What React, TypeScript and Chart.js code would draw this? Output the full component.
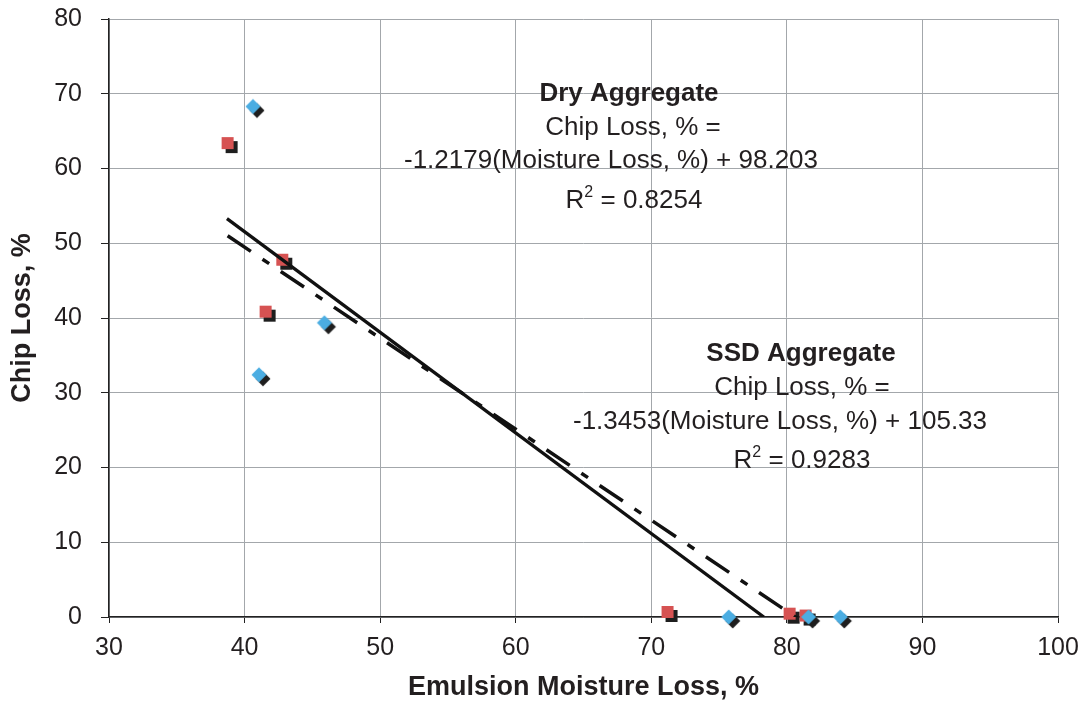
import React, { useEffect, useRef } from 'react';
import { Chart, registerables } from 'chart.js';

Chart.register(...registerables);

// ---- data ----
const dryX = [38.75, 42.78, 41.55, 71.2, 80.2, 81.38];
const dryY = [63.4, 47.8, 40.85, 0.67, 0.45, 0.2];
const ssdX = [40.62, 45.89, 41.06, 75.71, 83.94, 81.6];
const ssdY = [68.3, 39.36, 32.4, 0, 0, 0];
const dryTrendX = [38.75, 81.38];
const dryTrendY = [51.0, -0.9];
const ssdTrendX = [38.7, 78.3];
const ssdTrendY = [53.3, 0];

const xMin = 30;
const xMax = 100;
const yMin = 0;
const yMax = 80;
const tickStep = 10;

const xTitle = 'Emulsion Moisture Loss, %';
const yTitle = 'Chip Loss, %';

const dryLines = ['Dry Aggregate', 'Chip Loss, % =', '-1.2179(Moisture Loss, %) + 98.203', ' = 0.8254'];
const ssdLines = ['SSD Aggregate', 'Chip Loss, % =', '-1.3453(Moisture Loss, %) + 105.33', ' = 0.9283'];

const FONT = '"Liberation Sans", Arial, Helvetica, sans-serif';
const RED = '#d65252';
const BLUE = '#4bade2';
const SHADOW = '#1e1e1e';

function makeMarker(kind: 'square' | 'diamond', color: string): HTMLCanvasElement {
  const size = 30;
  const c = document.createElement('canvas');
  c.width = size;
  c.height = size;
  const ctx = c.getContext('2d')!;
  const cx = size / 2;
  const cy = size / 2;
  const off = 4;
  const draw = (x: number, y: number, fill: string) => {
    ctx.fillStyle = fill;
    if (kind === 'square') {
      ctx.fillRect(x - 6, y - 6, 12, 12);
    } else {
      const r = 7.5;
      ctx.beginPath();
      ctx.moveTo(x, y - r);
      ctx.lineTo(x + r, y);
      ctx.lineTo(x, y + r);
      ctx.lineTo(x - r, y);
      ctx.closePath();
      ctx.fill();
    }
  };
  draw(cx + off, cy + off, SHADOW);
  draw(cx, cy, color);
  return c;
}

const zip = (xs: number[], ys: number[]) => xs.map((x, i) => ({ x, y: ys[i] }));

function drawBlock(ctx: CanvasRenderingContext2D, lines: string[], cxs: number[], ys: number[]) {
  ctx.save();
  ctx.fillStyle = '#231f20';
  ctx.textBaseline = 'alphabetic';
  ctx.textAlign = 'center';
  ctx.font = `bold 26px ${FONT}`;
  ctx.fillText(lines[0], cxs[0], ys[0]);
  ctx.font = `26px ${FONT}`;
  ctx.fillText(lines[1], cxs[1], ys[1]);
  ctx.fillText(lines[2], cxs[2], ys[2]);
  // R^2 line
  ctx.textAlign = 'left';
  ctx.font = `26px ${FONT}`;
  const wR = ctx.measureText('R').width;
  const wRest = ctx.measureText(lines[3]).width;
  ctx.font = `16px ${FONT}`;
  const w2 = ctx.measureText('2').width;
  const total = wR + w2 + wRest;
  let x = cxs[3] - total / 2;
  ctx.font = `26px ${FONT}`;
  ctx.fillText('R', x, ys[3]);
  x += wR;
  ctx.font = `16px ${FONT}`;
  ctx.fillText('2', x, ys[3] - 11);
  x += w2;
  ctx.font = `26px ${FONT}`;
  ctx.fillText(lines[3], x, ys[3]);
  ctx.restore();
}

const annotationPlugin = {
  id: 'annotations',
  afterDatasetsDraw(chart: any) {
    const ctx = chart.ctx as CanvasRenderingContext2D;
    drawBlock(ctx, dryLines, [629, 633, 611, 634], [101, 135, 168, 208]);
    drawBlock(ctx, ssdLines, [801, 802, 780, 802], [361, 395, 429, 468]);
  },
};

export default function App() {
  const canvasRef = useRef<HTMLCanvasElement>(null);

  useEffect(() => {
    document.body.style.margin = '0';
    const canvas = canvasRef.current!;
    const chart = new Chart(canvas, {
      type: 'scatter',
      data: {
        datasets: [
          {
            label: 'SSD trend',
            data: zip(ssdTrendX, ssdTrendY),
            showLine: true,
            borderColor: '#111',
            borderWidth: 3.3,
            pointRadius: 0,
            borderCapStyle: 'butt',
            clip: 0,
          } as any,
          {
            label: 'Dry trend',
            data: zip(dryTrendX, dryTrendY),
            showLine: true,
            borderColor: '#111',
            borderWidth: 3.5,
            borderDash: [28, 14, 8, 14],
            borderCapStyle: 'butt',
            pointRadius: 0,
            clip: 0,
          } as any,
          {
            label: 'SSD Aggregate',
            data: zip(ssdX, ssdY),
            pointStyle: makeMarker('diamond', BLUE),
            pointRadius: 8,
            clip: false,
          } as any,
          {
            label: 'Dry Aggregate',
            data: zip(dryX, dryY),
            pointStyle: makeMarker('square', RED),
            pointRadius: 8,
            clip: false,
          } as any,
        ],
      },
      options: {
        responsive: false,
        animation: false,
        devicePixelRatio: 1,
        layout: { padding: { top: 19, right: 28, left: 0, bottom: 0 } },
        plugins: {
          legend: { display: false },
          tooltip: { enabled: false },
        },
        scales: {
          x: {
            type: 'linear',
            min: xMin,
            max: xMax,
            afterFit: (scale: any) => {
              scale.height = 89;
              scale.paddingLeft = 0;
              scale.paddingRight = 0;
            },
            ticks: {
              stepSize: tickStep,
              color: '#231f20',
              font: { family: FONT, size: 25 },
              padding: 10,
            },
            grid: {
              color: '#a3a7ab',
              lineWidth: 1,
              tickColor: '#222',
              tickLength: 6,
            },
            border: { color: '#222', width: 1.5 },
            title: {
              display: true,
              text: xTitle,
              color: '#231f20',
              font: { family: FONT, size: 27, weight: 'bold' },
              padding: { top: 0, bottom: 2 },
            },
          },
          y: {
            type: 'linear',
            min: yMin,
            max: yMax,
            afterFit: (scale: any) => {
              scale.width = 109;
              scale.paddingTop = 0;
              scale.paddingBottom = 0;
            },
            ticks: {
              stepSize: tickStep,
              color: '#231f20',
              font: { family: FONT, size: 25 },
              padding: 19,
            },
            grid: {
              color: '#a3a7ab',
              lineWidth: 1,
              tickColor: '#222',
              tickLength: 8,
            },
            border: { color: '#222', width: 1.5 },
            title: {
              display: true,
              text: yTitle,
              color: '#231f20',
              font: { family: FONT, size: 27, weight: 'bold' },
              padding: { top: 6, bottom: 0 },
            },
          },
        },
      } as any,
      plugins: [annotationPlugin],
    });
    return () => chart.destroy();
  }, []);

  return (
    <div style={{ width: 1086, height: 706, background: '#fff' }}>
      <canvas ref={canvasRef} width={1086} height={706} />
    </div>
  );
}
